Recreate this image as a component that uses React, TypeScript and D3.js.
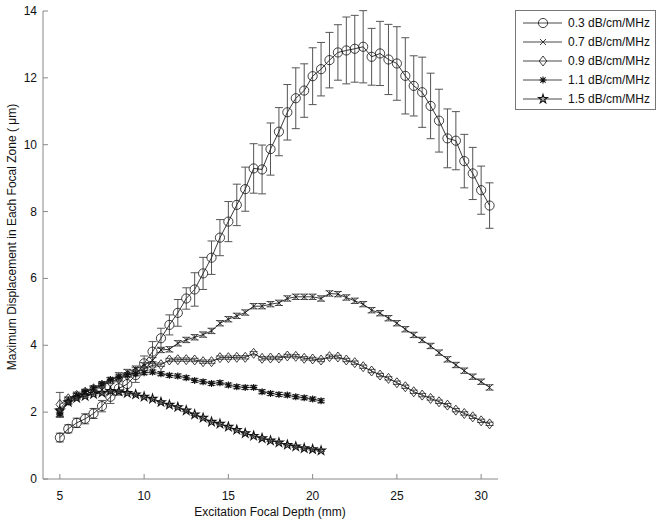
import React from "react";
import * as d3 from "d3";

const W = 662;
const H = 524;

const depthLong = d3.range(5, 30.51, 0.5);
const depthShort = d3.range(5, 20.51, 0.5);

const seriesLabels = ["0.3 dB/cm/MHz", "0.7 dB/cm/MHz", "0.9 dB/cm/MHz", "1.1 dB/cm/MHz", "1.5 dB/cm/MHz"];
const xTicks = [5, 10, 15, 20, 25, 30];
const yTicks = [0, 2, 4, 6, 8, 10, 12, 14];

const att03 = [1.24, 1.5, 1.68, 1.8, 1.96, 2.18, 2.46, 2.71, 2.84, 3.11,
  3.46, 3.81, 4.21, 4.61, 4.97, 5.4, 5.67, 6.15, 6.62, 7.22,
  7.7, 8.2, 8.67, 9.29, 9.26, 9.87, 10.39, 10.97, 11.39, 11.62,
  12.05, 12.26, 12.53, 12.76, 12.82, 12.87, 12.93, 12.63, 12.73, 12.55,
  12.43, 12.06, 11.76, 11.57, 11.16, 10.72, 10.19, 10.12, 9.51, 9.14,
  8.64, 8.18];
const err03 = [0.13, 0.12, 0.14, 0.15, 0.15, 0.17, 0.2, 0.2, 0.22, 0.22,
  0.22, 0.3, 0.3, 0.3, 0.4, 0.32, 0.5, 0.48, 0.5, 0.54,
  0.6, 0.62, 0.66, 0.74, 0.73, 0.78, 0.72, 0.83, 0.91, 0.8,
  0.85, 0.8, 0.83, 0.83, 1.0, 1.0, 1.08, 0.85, 0.96, 1.05,
  1.1, 1.14, 0.9, 1.05, 0.98, 0.94, 0.88, 0.87, 0.8, 0.78,
  0.72, 0.68];

const att07 = [1.97, 2.35, 2.5, 2.6, 2.7, 2.8, 2.95, 3.1, 3.2, 3.3,
  3.4, 3.55, 3.86, 3.88, 4.06, 4.16, 4.24, 4.32, 4.43, 4.66,
  4.78, 4.88, 4.98, 5.17, 5.17, 5.23, 5.27, 5.4, 5.45, 5.45,
  5.45, 5.4, 5.55, 5.53, 5.43, 5.33, 5.23, 5.05, 4.96, 4.81,
  4.66, 4.48, 4.31, 4.16, 3.98, 3.78, 3.58, 3.41, 3.24, 3.06,
  2.91, 2.74];
const err07 = [0.12, 0.1, 0.1, 0.08, 0.08, 0.08, 0.08, 0.08, 0.08, 0.08,
  0.08, 0.08, 0.08, 0.08, 0.08, 0.08, 0.08, 0.08, 0.08, 0.08,
  0.08, 0.08, 0.08, 0.08, 0.08, 0.08, 0.08, 0.08, 0.08, 0.08,
  0.08, 0.08, 0.08, 0.08, 0.08, 0.08, 0.08, 0.08, 0.08, 0.08,
  0.08, 0.08, 0.08, 0.08, 0.08, 0.08, 0.08, 0.08, 0.08, 0.08,
  0.08, 0.08];

const att09 = [2.23, 2.4, 2.5, 2.6, 2.7, 2.8, 2.9, 3.0, 3.1, 3.2,
  3.3, 3.4, 3.42, 3.56, 3.57, 3.57, 3.56, 3.51, 3.51, 3.63,
  3.63, 3.64, 3.64, 3.76, 3.61, 3.62, 3.62, 3.68, 3.67, 3.61,
  3.59, 3.56, 3.66, 3.65, 3.56, 3.48, 3.36, 3.23, 3.11, 3.01,
  2.88, 2.76, 2.61, 2.51, 2.41, 2.31, 2.21, 2.06, 1.96, 1.86,
  1.74, 1.65];
const err09 = [0.36, 0.05, 0.05, 0.05, 0.05, 0.05, 0.05, 0.05, 0.05, 0.05,
  0.05, 0.05, 0.05, 0.05, 0.05, 0.05, 0.05, 0.05, 0.05, 0.05,
  0.05, 0.05, 0.05, 0.05, 0.05, 0.05, 0.05, 0.05, 0.05, 0.05,
  0.05, 0.05, 0.05, 0.05, 0.05, 0.05, 0.05, 0.05, 0.05, 0.05,
  0.05, 0.05, 0.05, 0.05, 0.05, 0.05, 0.05, 0.05, 0.05, 0.05,
  0.05, 0.05];

const att11 = [1.95, 2.3, 2.5, 2.62, 2.72, 2.85, 2.98, 3.05, 3.12, 3.15,
  3.18, 3.2, 3.15, 3.1, 3.08, 3.03, 2.95, 2.91, 2.86, 2.88,
  2.81, 2.76, 2.74, 2.74, 2.61, 2.56, 2.53, 2.51, 2.46, 2.43,
  2.39, 2.34];
const err11 = [0.1, 0.06, 0.06, 0.06, 0.06, 0.06, 0.06, 0.06, 0.06, 0.06,
  0.06, 0.06, 0.06, 0.06, 0.06, 0.06, 0.06, 0.06, 0.06, 0.06,
  0.06, 0.06, 0.06, 0.06, 0.06, 0.06, 0.06, 0.06, 0.06, 0.06,
  0.06, 0.06];

const att15 = [2.05, 2.3, 2.42, 2.48, 2.54, 2.58, 2.63, 2.62, 2.57, 2.53,
  2.46, 2.4, 2.3, 2.22, 2.15, 2.05, 1.93, 1.83, 1.71, 1.65,
  1.56, 1.47, 1.37, 1.29, 1.22, 1.15, 1.09, 1.02, 0.97, 0.92,
  0.89, 0.85];
const err15 = [0.05, 0.03, 0.03, 0.03, 0.03, 0.03, 0.03, 0.03, 0.03, 0.03,
  0.03, 0.03, 0.03, 0.03, 0.03, 0.03, 0.03, 0.03, 0.03, 0.03,
  0.03, 0.03, 0.03, 0.03, 0.03, 0.03, 0.03, 0.03, 0.03, 0.03,
  0.03, 0.03];

type Marker = "circle" | "x" | "diamond" | "asterisk" | "star";
const markers: Marker[] = ["circle", "x", "diamond", "asterisk", "star"];
const allDepths = [depthLong, depthLong, depthLong, depthShort, depthShort];
const allVals = [att03, att07, att09, att11, att15];
const allErrs = [err03, err07, err09, err11, err15];

const x = d3.scaleLinear().domain([4, 31]).range([43, 498]);
const y = d3.scaleLinear().domain([0, 14]).range([479, 11]);

const FONT = "'Liberation Sans', Arial, Helvetica, sans-serif";
const starPath = d3.symbol(d3.symbolStar, 24)() as string;

function MarkerShape({ m, cx, cy }: { m: Marker; cx: number; cy: number }) {
  const common = { fill: "none", stroke: "#111", strokeWidth: 0.8 };
  if (m === "circle") return <circle cx={cx} cy={cy} r={4.6} {...common} />;
  if (m === "x")
    return <path d={`M${cx - 3},${cy - 3}L${cx + 3},${cy + 3}M${cx - 3},${cy + 3}L${cx + 3},${cy - 3}`} {...common} />;
  if (m === "diamond")
    return <path d={`M${cx},${cy - 5}L${cx + 3.8},${cy}L${cx},${cy + 5}L${cx - 3.8},${cy}Z`} {...common} />;
  if (m === "asterisk")
    return (
      <path
        d={`M${cx - 3.5},${cy}L${cx + 3.5},${cy}M${cx},${cy - 3.5}L${cx},${cy + 3.5}M${cx - 2.6},${cy - 2.6}L${cx + 2.6},${cy + 2.6}M${cx - 2.6},${cy + 2.6}L${cx + 2.6},${cy - 2.6}`}
        {...common}
        strokeWidth={1.1}
      />
    );
  return <path d={starPath} transform={`translate(${cx},${cy})`} {...common} strokeWidth={1.1} />;
}

export default function App() {
  const line = d3.line<[number, number]>().x((d) => x(d[0])).y((d) => y(d[1]));
  return (
    <svg width={W} height={H} style={{ position: "absolute", left: 0, top: 0, background: "#fff" }} fontFamily={FONT}>
      <rect x={0} y={0} width={W} height={H} fill="#fff" />
      {/* axes */}
      <line x1={43} x2={43} y1={y(14)} y2={y(0)} stroke="#888" strokeWidth={1} />
      <line x1={43} x2={498} y1={y(0)} y2={y(0)} stroke="#888" strokeWidth={1} />
      {yTicks.map((t) => (
        <g key={"y" + t}>
          <line x1={43} x2={48} y1={y(t)} y2={y(t)} stroke="#888" />
          <text x={37} y={y(t) + 4} fontSize={12} textAnchor="end" fill="#111">{t}</text>
        </g>
      ))}
      {xTicks.map((t) => (
        <g key={"x" + t}>
          <line x1={x(t)} x2={x(t)} y1={y(0)} y2={y(0) - 5} stroke="#888" />
          <text x={x(t)} y={500} fontSize={12} textAnchor="middle" fill="#111">{t}</text>
        </g>
      ))}
      <text x={270} y={516} fontSize={12} textAnchor="middle" fill="#111">Excitation Focal Depth (mm)</text>
      <text transform={`translate(16,237) rotate(-90)`} fontSize={12} textAnchor="middle" fill="#111">
        Maximum Displacement in Each Focal Zone ( μm)
      </text>
      {/* series */}
      {allVals.map((vals, si) => {
        const pts: [number, number][] = vals.map((v, i) => [allDepths[si][i], v]);
        return (
          <g key={"s" + si}>
            {pts.map((p, i) => {
              const e = allErrs[si][i];
              const px = x(p[0]);
              const y1 = y(p[1] + e);
              const y2 = y(p[1] - e);
              return (
                <path
                  key={"e" + i}
                  d={`M${px},${y1}L${px},${y2}M${px - 4},${y1}L${px + 4},${y1}M${px - 4},${y2}L${px + 4},${y2}`}
                  stroke="#555"
                  strokeWidth={1}
                  fill="none"
                />
              );
            })}
            <path d={line(pts) as string} fill="none" stroke="#222" strokeWidth={0.9} />
            {pts.map((p, i) => (
              <MarkerShape key={"m" + i} m={markers[si]} cx={x(p[0])} cy={y(p[1])} />
            ))}
          </g>
        );
      })}
      {/* legend */}
      <rect x={515.5} y={10.5} width={140} height={99} fill="#fff" stroke="#777" strokeWidth={1} />
      {seriesLabels.map((lab, i) => {
        const ly = 23 + i * 19;
        return (
          <g key={"l" + i}>
            <line x1={523} x2={562} y1={ly} y2={ly} stroke="#333" strokeWidth={0.9} />
            <MarkerShape m={markers[i]} cx={543} cy={ly} />
            <text x={568} y={ly + 4} fontSize={12} fill="#111">{lab}</text>
          </g>
        );
      })}
    </svg>
  );
}
